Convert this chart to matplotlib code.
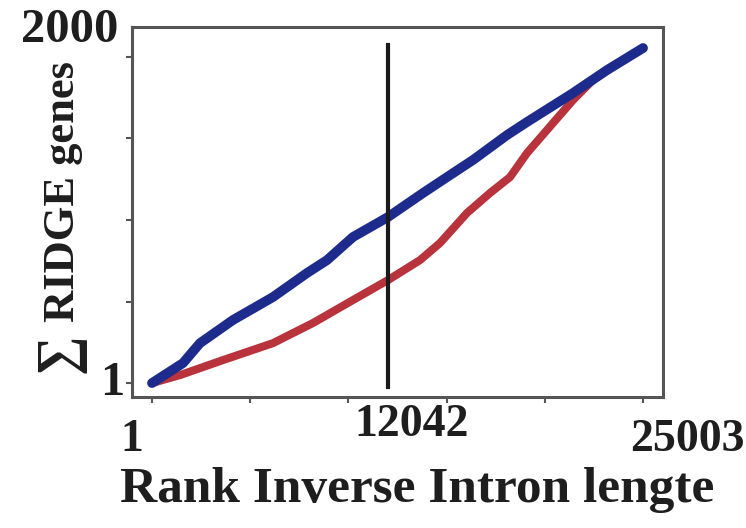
import matplotlib

matplotlib.use("Agg")
import matplotlib.pyplot as plt

# cumulative RIDGE gene counts along the intron-length rank
rank_ridge = [1, 1579, 2445, 4125, 6162, 7893, 8911, 10235, 12017, 13799, 15021,
              16345, 18076, 19094, 21436, 23167, 25003]
cum_ridge = [1, 114, 227, 358, 488, 624, 697, 828, 941, 1077, 1167,
             1264, 1405, 1479, 1643, 1773, 1898]

rank_other = [1, 1427, 3616, 6162, 8199, 10235, 12017, 13646, 14665, 16040, 17211,
              18229, 19094, 20418, 21436, 22454, 23167, 25003]
cum_other = [1, 46, 131, 227, 341, 471, 584, 697, 794, 964, 1077,
             1167, 1303, 1473, 1603, 1717, 1773, 1898]

cut_rank = 12042
x_ticks = [1, 5000, 10000, 15000, 20000, 25003]
y_ticks = [1, 460, 924, 1388, 1847]

SERIF = ["Liberation Serif", "DejaVu Serif"]
W, H = 746, 528

fig = plt.figure(figsize=(W / 100, H / 100), dpi=100)
ax = fig.add_axes([132 / W, 1 - 397 / H, (663 - 132) / W, (397 - 27) / H])

ax.plot(rank_other, cum_other, color="#b8333b", lw=5.8, solid_capstyle="round",
        solid_joinstyle="round", zorder=2)
ax.plot(rank_ridge, cum_ridge, color="#1c2b8c", lw=7.0, solid_capstyle="round",
        solid_joinstyle="round", zorder=3)
ax.axvline(cut_rank, ymin=0.027, ymax=0.951, color="#1a1a1a", lw=3.0, zorder=4)

ax.set_xlim(-1017, 26019)
ax.set_ylim(-78, 2017)
ax.set_xticks(x_ticks)
ax.set_yticks(y_ticks)
ax.set_xticklabels([])
ax.set_yticklabels([])
ax.tick_params(length=4, width=1.5, color="#555555")
for s in ax.spines.values():
    s.set_color("#555555")
    s.set_linewidth(2.2)


def ftext(px, py, s, **kw):
    fig.text(px / W, 1 - py / H, s, family=SERIF, weight="bold", color="#1e1e1e", **kw)


# hand-placed tick labels
ftext(132, 440, "1", fontsize=33, ha="center", va="center")
ftext(412, 425, str(cut_rank), fontsize=33, ha="center", va="center")
ftext(745, 440, "25003", fontsize=33, ha="right", va="center")
ftext(118, 30, "2000", fontsize=35, ha="right", va="center")
ftext(124, 383, "1", fontsize=35, ha="right", va="center")

ftext(417, 490, "Rank Inverse Intron lengte", fontsize=37, ha="center", va="center")
ftext(63, 192, "RIDGE genes", fontsize=32, ha="center", va="center", rotation=90)
ftext(60, 353, "\u2211", fontsize=40, ha="center", va="center", rotation=90)

fig.savefig("out.png", dpi=100)
